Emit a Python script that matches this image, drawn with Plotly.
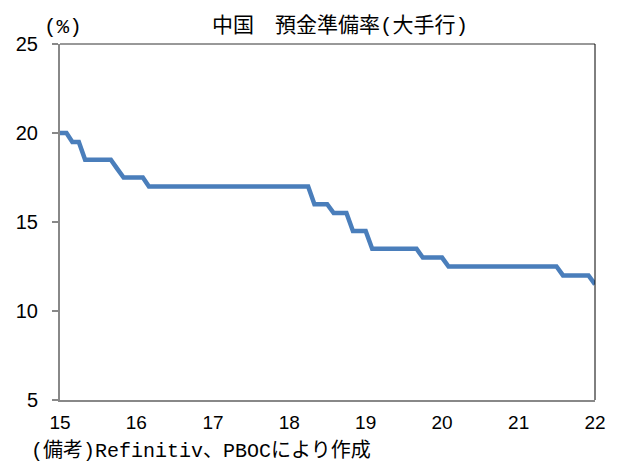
import plotly.graph_objects as go
import pandas as pd

# Monthly (start-of-month) reserve requirement ratio, large banks, Jan 2015 - Jan 2022
months = pd.date_range("2015-01-01", "2022-01-01", freq="MS")
rrr = [
    20.0, 20.0, 19.5, 19.5, 18.5, 18.5, 18.5, 18.5, 18.5, 18.0, 17.5, 17.5,  # 2015
    17.5, 17.5, 17.0, 17.0, 17.0, 17.0, 17.0, 17.0, 17.0, 17.0, 17.0, 17.0,  # 2016
    17.0, 17.0, 17.0, 17.0, 17.0, 17.0, 17.0, 17.0, 17.0, 17.0, 17.0, 17.0,  # 2017
    17.0, 17.0, 17.0, 17.0, 16.0, 16.0, 16.0, 15.5, 15.5, 15.5, 14.5, 14.5,  # 2018
    14.5, 13.5, 13.5, 13.5, 13.5, 13.5, 13.5, 13.5, 13.5, 13.0, 13.0, 13.0,  # 2019
    13.0, 12.5, 12.5, 12.5, 12.5, 12.5, 12.5, 12.5, 12.5, 12.5, 12.5, 12.5,  # 2020
    12.5, 12.5, 12.5, 12.5, 12.5, 12.5, 12.5, 12.0, 12.0, 12.0, 12.0, 12.0,  # 2021
    11.5,                                                                    # 2022
]
x_tick_vals = pd.date_range("2015-01-01", "2022-01-01", freq="YS")
x_tick_text = ["15", "16", "17", "18", "19", "20", "21", "22"]
y_ticks = [5, 10, 15, 20, 25]

title_text = "中国　預金準備率(大手行)"
unit_text = "(%)"
note_text = "(備考)Refinitiv、PBOCにより作成"

jp_font = "Liberation Mono, Noto Sans CJK JP, monospace"
num_font = "Liberation Sans, Arial, sans-serif"

fig = go.Figure()
fig.add_trace(go.Scatter(
    x=months, y=rrr, mode="lines",
    line=dict(color="#4A7EBB", width=4.5),
    showlegend=False, hoverinfo="skip",
))

fig.update_layout(
    width=620, height=464,
    margin=dict(l=60, r=25, t=44, b=64),
    paper_bgcolor="white", plot_bgcolor="white",
    xaxis=dict(
        range=[months[0], months[-1]],
        tickvals=x_tick_vals, ticktext=x_tick_text,
        showgrid=False, zeroline=False,
        showline=True, linecolor="#888888", linewidth=1.5,
        ticks="", ticklabelstandoff=4,
        tickfont=dict(family=num_font, size=19, color="black"),
    ),
    yaxis=dict(
        range=[5, 25], tickvals=y_ticks,
        showgrid=False, zeroline=False,
        showline=True, linecolor="#888888", linewidth=2,
        ticks="outside", ticklen=6, tickcolor="#888888", tickwidth=1.5,
        ticklabelstandoff=10,
        tickfont=dict(family=num_font, size=20, color="black"),
    ),
    shapes=[
        dict(type="line", xref="paper", yref="paper", x0=0, x1=1, y0=1, y1=1,
             line=dict(color="#333333", width=1)),
        dict(type="line", xref="paper", yref="paper", x0=1, x1=1, y0=0, y1=1,
             line=dict(color="black", width=1)),
    ],
    annotations=[
        dict(text=title_text, x=339.5, y=26, xref="paper", yref="paper",
             xanchor="center", yanchor="middle", showarrow=False,
             font=dict(family=jp_font, size=21, color="black")),
        dict(text=unit_text, x=42, y=27, xref="paper", yref="paper",
             xanchor="left", yanchor="middle", showarrow=False,
             font=dict(family=jp_font, size=21, color="black")),
        dict(text=note_text, x=29, y=451, xref="paper", yref="paper",
             xanchor="left", yanchor="middle", showarrow=False,
             font=dict(family=jp_font, size=20, color="black")),
    ],
)

# convert pixel positions of the text annotations to paper coordinates
plot_l, plot_r, plot_t, plot_b = 60, 620 - 25, 44, 464 - 64
for ann in fig.layout.annotations:
    px, py = ann.x, ann.y
    ann.x = (px - plot_l) / (plot_r - plot_l)
    ann.y = (plot_b - py) / (plot_b - plot_t)

fig.write_html("out.html")
